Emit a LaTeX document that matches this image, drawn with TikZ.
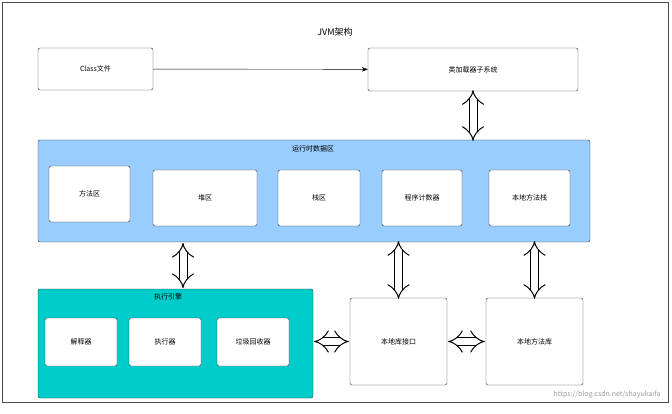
\documentclass[tikz,border=0pt]{standalone}
\usepackage{fontspec}
\setmainfont{Noto Sans CJK SC}
\usetikzlibrary{arrows.meta}
\definecolor{runtimeblue}{HTML}{99CCFF}
\definecolor{enginecyan}{HTML}{00CCCC}

\begin{document}
\begin{tikzpicture}[x=1pt,y=-1pt,
    box/.style={draw=black!80,fill=white,rounded corners=2pt,font=\fontsize{7}{8}\selectfont,inner sep=0pt},
    region/.style={draw=black!80,rounded corners=2pt,inner sep=0pt},
    twoway/.style={draw=black,double=white,double distance=7pt,line width=1pt,{Implies}-{Implies}}]
      \useasboundingbox (0,0) rectangle (672,414);
      \draw[black!70] (2,2) rectangle (668,402);
      \node[font=\fontsize{9}{10}\selectfont] (title) at (335,32) {JVM架构};

      \node[box,minimum width=115,minimum height=42] (class) at (95.5,69) {Class文件};
      \node[box,minimum width=210,minimum height=43] (loader) at (473,69.5) {类加载器子系统};

      % runtime data area
      \node[region,fill=runtimeblue,minimum width=552,minimum height=102] (runtime) at (314,191) {};
      \node[font=\fontsize{7}{8}\selectfont] at (313,149) {运行时数据区};
      \node[box,minimum width=81,minimum height=56] (method) at (89.5,194) {方法区};
      \node[box,minimum width=104,minimum height=56] (heap) at (205,198) {堆区};
      \node[box,minimum width=82,minimum height=56] (stack) at (319,198) {栈区};
      \node[box,minimum width=80,minimum height=56] (pc) at (422,198) {程序计数器};
      \node[box,minimum width=81,minimum height=56] (native) at (529.5,198) {本地方法栈};

      % execution engine
      \node[region,fill=enginecyan,minimum width=275,minimum height=109] (engine) at (175.5,343.5) {};
      \node[font=\fontsize{7}{8}\selectfont] at (168,297) {执行引擎};
      \node[box,minimum width=72,minimum height=48] (interp) at (81,342) {解释器};
      \node[box,minimum width=72,minimum height=48] (exec) at (165,342) {执行器};
      \node[box,minimum width=72,minimum height=48] (gc) at (253,342) {垃圾回收器};

      \node[box,minimum width=97,minimum height=87] (jni) at (398.5,341.5) {本地库接口};
      \node[box,minimum width=97,minimum height=87] (lib) at (534.5,341.5) {本地方法库};

      \coordinate (up) at (183,243);
      \coordinate (down) at (183,288);

      \draw[-{Stealth[length=6pt]}] (class) -- (loader);
      \draw[twoway] ([yshift=1]loader.south) -- ([yshift=-1]loader.south |- runtime.north);
      \draw[twoway] (up) -- (down);
      \draw[twoway] ([yshift=1]runtime.south -| jni.north) -- ([yshift=-1]jni.north);
      \draw[twoway] ([yshift=1]runtime.south -| lib.north) -- ([yshift=-1]lib.north);
      \draw[twoway] ([xshift=1]engine.east |- jni) -- ([xshift=-1]jni.west);
      \draw[twoway] ([xshift=1]jni.east) -- ([xshift=-1]lib.west);

      \node[text=black!40,font=\fontsize{7}{8}\selectfont,anchor=east] (mark) at (664,395) {https://blog.csdn.net/shayukaifa};
\end{tikzpicture}
\end{document}
